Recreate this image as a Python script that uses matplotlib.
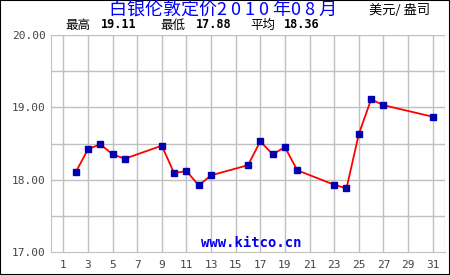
import matplotlib
matplotlib.use("Agg")
import matplotlib.pyplot as plt
from matplotlib.patches import Rectangle

days = [2, 3, 4, 5, 6, 9, 10, 11, 12, 13, 16, 17, 18, 19, 20, 23, 24, 25, 26, 27, 31]
prices = [18.10, 18.42, 18.49, 18.35, 18.29, 18.47, 18.09, 18.12, 17.92, 18.06,
          18.20, 18.53, 18.35, 18.45, 18.13, 17.93, 17.88, 18.63, 19.11, 19.03, 18.87]
xtick_days = list(range(1, 32, 2))
ytick_vals = [17.0, 18.0, 19.0, 20.0]

title = "白银伦敦定价2 0 1 0 年0 8 月"
unit = "美元/ 盎司"
stats = [("最高", "19.11"), ("最低", "17.88"), ("平均", "18.36")]

cjk = ["Noto Sans CJK SC", "DejaVu Sans"]
mono = "DejaVu Sans Mono"
grid_c = "#c0c0c0"

fig = plt.figure(figsize=(4.5, 2.75), dpi=100)
fig.patch.set_facecolor("white")
ax = fig.add_axes([51 / 450, 1 - 252 / 275, 394 / 450, 217 / 275])

ax.set_xlim(0, 32)
ax.set_ylim(17, 20)

# grid: every 2 days, every 0.5 dollars
for d in xtick_days + [32]:
    ax.axvline(d, color=grid_c, lw=1, zorder=1)
for v in [17.5, 18.0, 18.5, 19.0, 19.5, 20.0]:
    ax.axhline(v, color=grid_c, lw=1, zorder=1)

ax.plot(days, prices, color="red", lw=1.3, zorder=3)
ax.plot(days, prices, ls="none", marker="s", ms=4.2, mfc="#0000b0", mec="#0000b0", zorder=4)

for s in ["top", "right"]:
    ax.spines[s].set_visible(False)
for s in ["left", "bottom"]:
    ax.spines[s].set_color(grid_c)

ax.set_xticks(xtick_days)
ax.set_xticklabels([str(d) for d in xtick_days])
ax.set_yticks(ytick_vals)
ax.set_yticklabels(["%.2f" % v for v in ytick_vals])
ax.tick_params(length=0, labelsize=8, colors="#444444")
ax.tick_params(axis="x", pad=6)
ax.tick_params(axis="y", pad=4)
for lab in ax.get_xticklabels() + ax.get_yticklabels():
    lab.set_family(mono)

ax.text(16.3, 17.12, "www.kitco.cn", color="#0000ee", fontsize=10, fontweight="bold",
        family=mono, ha="center", va="center", zorder=5)

fig.text(223 / 450, 1 - 11 / 275, title, color="#0000ff", fontsize=13,
         family=cjk, ha="center", va="center")
fig.text(400 / 450, 1 - 10 / 275, unit, color="black", fontsize=9.5,
         family=cjk, ha="center", va="center")

xs = [(65, 101), (160, 196), (250, 284)]
for (lab, val), (x1, x2) in zip(stats, xs):
    fig.text(x1 / 450, 1 - 25 / 275, lab, fontsize=9, family=cjk, ha="left", va="center")
    fig.text(x2 / 450, 1 - 25 / 275, val, fontsize=8.5, family=mono, fontweight="bold",
             ha="left", va="center")

# black frame round the whole image
fig.add_artist(Rectangle((0, 0), 1, 1, transform=fig.transFigure, fill=False,
                         edgecolor="black", lw=1.5))

fig.savefig("out.png", dpi=100)
